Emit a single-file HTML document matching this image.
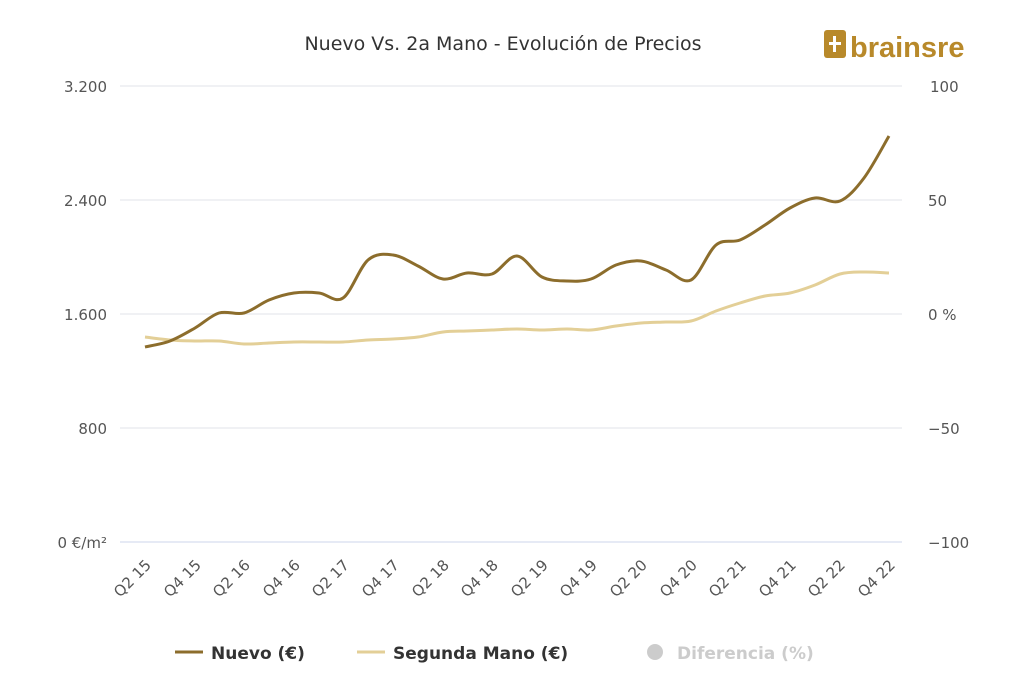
<!DOCTYPE html>
<html><head><meta charset="utf-8"><style>
body{margin:0;background:#fff;width:1024px;height:687px;overflow:hidden;font-family:"DejaVu Sans","Liberation Sans",sans-serif}
</style></head><body>
<svg id="s" width="1024" height="687" xmlns="http://www.w3.org/2000/svg">
<text x="503" y="50" text-anchor="middle" font-size="19" fill="#333">Nuevo Vs. 2a Mano - Evolución de Precios</text>
<g>
<rect x="824" y="30" width="22" height="28" rx="3" fill="#b8892a"/>
<rect x="829" y="42" width="12" height="3" fill="#fff"/><rect x="833" y="36" width="3" height="16" fill="#fff"/>
<text x="850" y="57" font-size="29" font-weight="bold" fill="#b8892a" font-family="Liberation Sans,sans-serif">brainsre</text>
</g>
<g stroke="#e0e3ea" stroke-width="1">
<line x1="120" y1="86" x2="902" y2="86"/><line x1="120" y1="200" x2="902" y2="200"/>
<line x1="120" y1="314" x2="902" y2="314"/><line x1="120" y1="428" x2="902" y2="428"/>
<line x1="120" y1="542" x2="902" y2="542" stroke="#ccd6eb"/>
</g>
<g font-size="15" fill="#555" text-anchor="end">
<text x="107" y="92">3.200</text><text x="107" y="206">2.400</text><text x="107" y="320">1.600</text><text x="107" y="434">800</text><text x="107" y="548">0 €/m²</text>
</g>
<g font-size="15" fill="#555" text-anchor="start">
<text x="930" y="92">100</text><text x="928" y="206">50</text><text x="928" y="320">0 %</text><text x="928" y="434">−50</text><text x="928" y="548">−100</text>
</g>
<g font-size="15" fill="#555" text-anchor="end">
<text transform="translate(152,566) rotate(-45)">Q2 15</text>
<text transform="translate(202,566) rotate(-45)">Q4 15</text>
<text transform="translate(251,566) rotate(-45)">Q2 16</text>
<text transform="translate(301,566) rotate(-45)">Q4 16</text>
<text transform="translate(350,566) rotate(-45)">Q2 17</text>
<text transform="translate(400,566) rotate(-45)">Q4 17</text>
<text transform="translate(450,566) rotate(-45)">Q2 18</text>
<text transform="translate(499,566) rotate(-45)">Q4 18</text>
<text transform="translate(549,566) rotate(-45)">Q2 19</text>
<text transform="translate(598,566) rotate(-45)">Q4 19</text>
<text transform="translate(648,566) rotate(-45)">Q2 20</text>
<text transform="translate(698,566) rotate(-45)">Q4 20</text>
<text transform="translate(747,566) rotate(-45)">Q2 21</text>
<text transform="translate(797,566) rotate(-45)">Q4 21</text>
<text transform="translate(846,566) rotate(-45)">Q2 22</text>
<text transform="translate(896,566) rotate(-45)">Q4 22</text>
</g>
<polyline class="sm" fill="none" stroke="#e3cf97" stroke-width="3" stroke-linejoin="round" points="145,337 170,340 195,341 219,341 244,344 269,343 294,342 319,342 343,342 368,340 393,339 418,337 443,332 467,331 492,330 517,329 542,330 567,329 591,330 616,326 641,323 666,322 691,321 716,311 740,303 765,296 790,293 815,285 840,274 864,272 889,273"/>
<polyline class="sm" fill="none" stroke="#8c6d2c" stroke-width="3" stroke-linejoin="round" points="145,347 170,341 195,328 219,313 244,313 269,300 294,293 319,293 343,298 368,260 393,255 418,266 443,279 467,273 492,274 517,256 542,277 567,281 591,279 616,265 641,261 666,270 691,280 716,245 740,240 765,225 790,208 815,198 840,201 864,178 889,136"/>
<line x1="175" y1="652" x2="203" y2="652" stroke="#8c6d2c" stroke-width="3"/>
<text x="211" y="659" font-size="17" font-weight="bold" fill="#333">Nuevo (€)</text>
<line x1="357" y1="652" x2="385" y2="652" stroke="#e3cf97" stroke-width="3"/>
<text x="393" y="659" font-size="17" font-weight="bold" fill="#333">Segunda Mano (€)</text>
<circle cx="655" cy="652" r="8" fill="#ccc"/>
<text x="677" y="659" font-size="17" font-weight="bold" fill="#ccc">Diferencia (%)</text>
</svg>
<script>
document.querySelectorAll('.sm').forEach(function(pl){
var p=pl.getAttribute('points').trim().split(/\s+/).map(function(s){return s.split(',').map(Number);});
var d='M'+p[0][0]+','+p[0][1];
for(var i=0;i<p.length-1;i++){
var a=p[i-1]||p[i],b=p[i],c=p[i+1],e=p[i+2]||c;
var t=0.5/3;
d+=' C'+(b[0]+(c[0]-a[0])*t)+','+(b[1]+(c[1]-a[1])*t)+' '+(c[0]-(e[0]-b[0])*t)+','+(c[1]-(e[1]-b[1])*t)+' '+c[0]+','+c[1];
}
var path=document.createElementNS('http://www.w3.org/2000/svg','path');
path.setAttribute('d',d);path.setAttribute('fill','none');
path.setAttribute('stroke',pl.getAttribute('stroke'));path.setAttribute('stroke-width','3');
pl.parentNode.replaceChild(path,pl);
});
</script>
</body></html>
